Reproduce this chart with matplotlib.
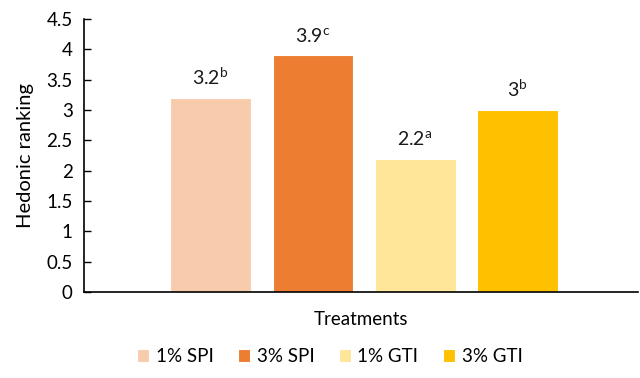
import numpy as np
import matplotlib.pyplot as plt

plt.rcParams['font.family'] = ['Lato', 'DejaVu Sans']
plt.rcParams['mathtext.fontset'] = 'custom'
plt.rcParams['mathtext.rm'] = 'Lato'

# Mean hedonic scores per treatment, with significance letters
treatments = ['1% SPI', '3% SPI', '1% GTI', '3% GTI']
scores = [3.2, 3.9, 2.2, 3.0]
letters = ['b', 'c', 'a', 'b']
colors = ['#F8CBAD', '#ED7D31', '#FFE699', '#FFC000']

fig = plt.figure(figsize=(6.4, 3.78), dpi=100)
ax = fig.add_axes([0.131, 0.2275, 0.866, 0.7222])

x = np.arange(len(treatments))
bars = ax.bar(x, scores, width=0.79, color=colors, edgecolor='white',
              linewidth=0.8, zorder=2)

for xi, val, let in zip(x, scores, letters):
    ax.annotate(f'{val:g}$^{{\\mathrm{{{let}}}}}$', (xi, val),
                xytext=(0, 7), textcoords='offset points',
                ha='center', va='bottom', fontsize=14, color='#1a1a1a')

ax.set_xlim(-1.24, 4.18)
ax.set_ylim(0, 4.5)
ax.set_yticks(np.arange(0, 4.51, 0.5))
ax.set_yticklabels([f'{v:g}' for v in np.arange(0, 4.51, 0.5)])
ax.set_xticks([])
ax.tick_params(axis='y', direction='in', length=5, width=1, labelsize=13.5,
               pad=8, colors='black')
for side in ('top', 'right'):
    ax.spines[side].set_visible(False)
for side in ('left', 'bottom'):
    ax.spines[side].set_linewidth(1.2)

ax.set_ylabel('Hedonic ranking', fontsize=14.5, labelpad=9)
ax.set_xlabel('Treatments', fontsize=13.5, labelpad=14)

fig.legend(bars, treatments, loc='lower center', ncol=4, frameon=False,
           bbox_to_anchor=(0.515, -0.01), fontsize=13.5, handlelength=0.65,
           handleheight=0.65, handletextpad=0.35, columnspacing=1.3)

fig.savefig('out.png', dpi=100)
